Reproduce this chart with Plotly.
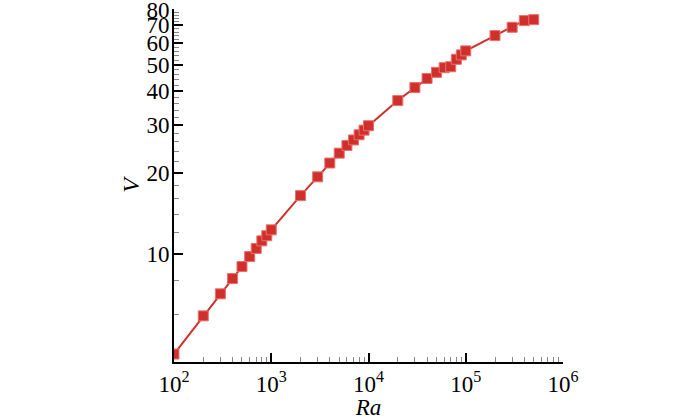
import plotly.graph_objects as go

ra = [100, 200, 300, 400, 500, 600, 700, 800, 900, 1000,
      2000, 3000, 4000, 5000, 6000, 7000, 8000, 9000, 10000,
      20000, 30000, 40000, 50000, 60000, 70000, 80000, 90000, 100000,
      200000, 300000, 400000, 500000]
v = [4.28, 5.92, 7.14, 8.13, 9.0, 9.8, 10.5, 11.2, 11.7, 12.3,
     16.45, 19.3, 21.7, 23.6, 25.2, 26.4, 27.6, 28.7, 29.8,
     36.9, 41.2, 44.5, 46.9, 48.8, 49.2, 52.4, 54.4, 56.3,
     64.1, 68.8, 72.8, 73.4]

x_tickvals = [1e2, 1e3, 1e4, 1e5, 1e6]
x_ticktext = ["10<sup>2</sup>", "10<sup>3</sup>", "10<sup>4</sup>", "10<sup>5</sup>", "10<sup>6</sup>"]
x_minor = [m * 10 ** e for e in range(2, 6) for m in range(2, 10)]
y_tickvals = [10, 20, 30, 40, 50, 60, 70, 80]
y_minor = [6, 8] + [t for t in range(12, 80, 2) if t % 10 != 0]

red = "#d0302c"
serif = "Liberation Serif"

fig = go.Figure()
fig.add_trace(go.Scatter(
    x=ra, y=v, mode="lines+markers",
    line=dict(color=red, width=2),
    marker=dict(symbol="square", size=10, color=red,
                line=dict(color="#e8706c", width=1)),
    showlegend=False,
))

fig.update_layout(
    width=700, height=420,
    margin=dict(l=174, r=137, t=9, b=58),
    paper_bgcolor="white", plot_bgcolor="white",
    font=dict(family=serif, color="black", size=22),
    xaxis=dict(
        type="log", range=[2, 6], automargin=False,
        tickvals=x_tickvals, ticktext=x_ticktext,
        ticks="inside", ticklen=9, tickwidth=2, tickcolor="black",
        showline=True, linecolor="black", linewidth=2,
        showgrid=False, zeroline=False,
        minor=dict(tickmode="array", tickvals=x_minor, ticks="inside",
                   ticklen=5, tickwidth=1, tickcolor="#888888", showgrid=False),
        tickfont=dict(family=serif, size=23),
        ticklabelstandoff=0, ticklabeloverflow="allow",
        title=dict(text="<i>Ra</i>", font=dict(family=serif, size=23), standoff=0),
    ),
    yaxis=dict(
        type="log", range=[0.60206, 1.905], automargin=False,
        tickvals=y_tickvals, ticktext=[str(t) for t in y_tickvals],
        ticks="inside", ticklen=9, tickwidth=2, tickcolor="black",
        showline=True, linecolor="black", linewidth=2,
        showgrid=False, zeroline=False,
        minor=dict(tickmode="array", tickvals=y_minor, ticks="inside",
                   ticklen=5, tickwidth=1, tickcolor="#888888", showgrid=False),
        tickfont=dict(family=serif, size=23),
        ticklabelstandoff=-2, ticklabeloverflow="allow",
        title=dict(text="<i>V</i>", font=dict(family=serif, size=24), standoff=0),
    ),
)

fig.write_html("out.html", config={"displayModeBar": False},
               post_script="document.body.style.margin='0';")
